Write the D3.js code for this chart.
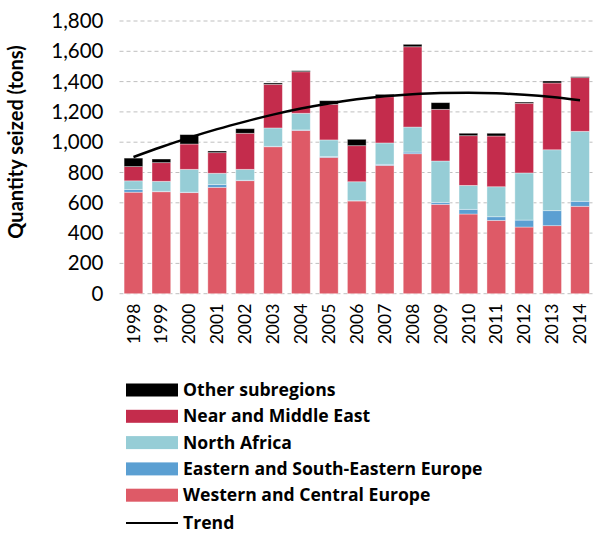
<!DOCTYPE html>
<html><head><meta charset="utf-8">
<script src="https://cdn.jsdelivr.net/npm/d3@7/dist/d3.min.js"></script>
<style>body{margin:0;background:#fff;} svg{display:block;}</style>
</head><body>
<svg id="chart" width="594" height="534"></svg>
<script>
const years = ["1998","1999","2000","2001","2002","2003","2004","2005","2006","2007","2008","2009","2010","2011","2012","2013","2014"];
const westernCentral = [670,673,667,702,746,970,1078,900,612,847,924,590,526,484,440,449,577];
const easternSouthEastern = [17,3,3,18,3,3,3,5,2,7,11,13,31,24,46,99,33];
const northAfrica = [58,66,151,75,72,121,110,110,125,141,165,273,158,198,311,402,462];
const nearMiddleEast = [94,123,167,136,238,288,274,235,238,305,530,341,328,335,460,441,354];
const otherSubregions = [56,24,62,11,30,9,7,24,42,16,16,44,16,18,8,13,6];
const trend = [902,968,1030,1086,1136,1182,1222,1256,1283,1303,1317,1325,1327,1323,1313,1298,1277];
const yTicks = [0,200,400,600,800,1000,1200,1400,1600,1800];

const seriesNames = ["Western and Central Europe","Eastern and South-Eastern Europe","North Africa","Near and Middle East","Other subregions"];
const seriesData = [westernCentral, easternSouthEastern, northAfrica, nearMiddleEast, otherSubregions];
const colors = ["#de5a67","#5b9fd2","#96cdd6","#c42c4c","#000000"];

const svg = d3.select("#chart");
const m = {left:119.5, right:594, top:21, bottom:293.7};

const x = d3.scaleBand().domain(years).range([m.left, m.right]).paddingInner(0.33).paddingOuter(0.165);
const y = d3.scaleLinear().domain([0,1800]).range([m.bottom, m.top]);

// gridlines
svg.append("g").selectAll("line").data(yTicks).join("line")
  .attr("x1", m.left).attr("x2", m.right)
  .attr("y1", d=>y(d)).attr("y2", d=>y(d))
  .attr("stroke","#bfbfbf").attr("stroke-width",1).attr("stroke-dasharray","4,3");

// y axis labels
const yAxis = d3.axisLeft(y).tickValues(yTicks).tickFormat(d3.format(",")).tickSize(0).tickPadding(0);
const ya = svg.append("g").attr("transform",`translate(${m.left-16},0)`).call(yAxis);
ya.select(".domain").remove();
ya.selectAll("text").attr("font-family","Lato, 'Open Sans', sans-serif").attr("font-size","20.5px").attr("fill","#000");

// stacks
const table = years.map((yr,i)=>{
  const o = {year:yr};
  seriesNames.forEach((n,k)=>o[n]=seriesData[k][i]);
  return o;
});
const stack = d3.stack().keys(seriesNames)(table);
svg.append("g").selectAll("g").data(stack).join("g")
  .attr("fill",(d,i)=>colors[i])
  .selectAll("rect").data(d=>d).join("rect")
  .attr("x", d=>x(d.data.year)).attr("width", x.bandwidth())
  .attr("y", d=>y(d[1])).attr("height", d=>Math.max(0,y(d[0])-y(d[1])))
  .attr("stroke","#ffffff").attr("stroke-opacity",0.45).attr("stroke-width",0.8);

// x axis labels
const xAxis = d3.axisBottom(x).tickSize(0).tickPadding(0);
const xa = svg.append("g").attr("transform",`translate(0,${m.bottom})`).call(xAxis);
xa.select(".domain").remove();
xa.selectAll("text")
  .attr("font-family","Lato, 'Open Sans', sans-serif").attr("font-size","17.5px").attr("fill","#000")
  .attr("transform","rotate(-90)").attr("text-anchor","end")
  .attr("x",-10).attr("y",0).attr("dy","0.35em");

// trend
const line = d3.line().x((d,i)=>x(years[i])+x.bandwidth()/2).y(d=>y(d)).curve(d3.curveMonotoneX);
svg.append("path").datum(trend).attr("d",line).attr("fill","none").attr("stroke","#000").attr("stroke-width",2.5);

// y title
svg.append("text").attr("transform","translate(23,142) rotate(-90)")
  .attr("text-anchor","middle").attr("font-family","Lato, 'Open Sans', sans-serif")
  .attr("font-weight","bold").attr("font-size","20px").text("Quantity seized (tons)");

// legend
const legendItems = ["Other subregions","Near and Middle East","North Africa","Eastern and South-Eastern Europe","Western and Central Europe"];
const legendColors = ["#000000","#c42c4c","#96cdd6","#5b9fd2","#de5a67"];
const legendFont = "'Open Sans', Lato, sans-serif";
const lg = svg.append("g");
legendItems.forEach((t,i)=>{
  const cy = 390 + i*26.3;
  lg.append("rect").attr("x",126).attr("y",cy-6.5).attr("width",52).attr("height",13).attr("fill",legendColors[i]);
  lg.append("text").attr("x",183).attr("y",cy).attr("dy","0.35em")
    .attr("font-family",legendFont).attr("font-weight","bold").attr("font-size","17.6px").text(t);
});
lg.append("line").attr("x1",126).attr("x2",178).attr("y1",523).attr("y2",523).attr("stroke","#000").attr("stroke-width",2);
lg.append("text").attr("x",183).attr("y",523).attr("dy","0.35em")
  .attr("font-family",legendFont).attr("font-weight","bold").attr("font-size","17.6px").text("Trend");
</script>
</body></html>
